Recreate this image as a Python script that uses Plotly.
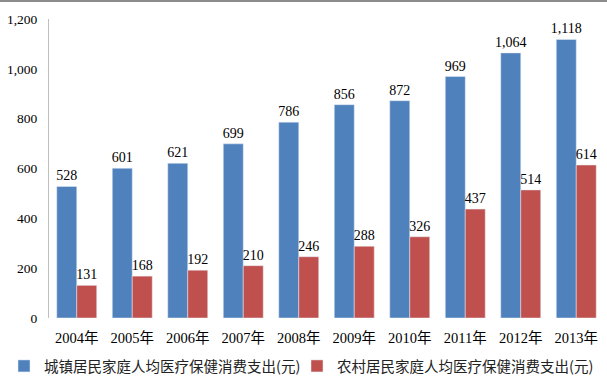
import plotly.graph_objects as go

years = ["2004年", "2005年", "2006年", "2007年", "2008年", "2009年", "2010年", "2011年", "2012年", "2013年"]
urban = [528, 601, 621, 699, 786, 856, 872, 969, 1064, 1118]
rural = [131, 168, 192, 210, 246, 288, 326, 437, 514, 614]
urban_name = "城镇居民家庭人均医疗保健消费支出(元)"
rural_name = "农村居民家庭人均医疗保健消费支出(元)"
y_ticks = [0, 200, 400, 600, 800, 1000, 1200]

serif = "Liberation Serif, Times New Roman, Noto Sans CJK SC"
cjk = "Noto Sans CJK SC, Liberation Sans"
W, H = 607, 390

fig = go.Figure()
fig.add_trace(go.Bar(x=years, y=urban, name=urban_name, marker_color="#4F81BD", legend="legend",
                     text=[f"{v:,}" for v in urban], textposition="outside", constraintext="none",
                     textfont=dict(family=serif, size=14, color="#000"), cliponaxis=False))
fig.add_trace(go.Bar(x=years, y=rural, name=rural_name, marker_color="#C0504D", legend="legend2",
                     text=[f"{v:,}" for v in rural], textposition="outside", constraintext="none",
                     textfont=dict(family=serif, size=14, color="#000"), cliponaxis=False))

leg_common = dict(xref="container", yref="container", xanchor="left", yanchor="middle",
                  y=1 - 366 / H, font=dict(family=cjk, size=14.5, color="#222"),
                  bgcolor="rgba(0,0,0,0)")

fig.update_layout(
    width=W, height=H,
    margin=dict(l=49, r=3, t=19, b=72, autoexpand=False),
    paper_bgcolor="white", plot_bgcolor="white",
    barmode="group", bargap=0.28, bargroupgap=0,
    showlegend=True,
    legend=dict(x=4 / W, **leg_common),
    legend2=dict(x=297 / W, **leg_common),
    xaxis=dict(showline=False, showgrid=False, ticks="", automargin=False, ticklabelstandoff=9,
               tickfont=dict(family=serif, size=14.5, color="#000")),
    yaxis=dict(range=[0, 1200], tickvals=y_ticks, ticktext=[f"{v:,}" for v in y_ticks], automargin=False,
               showline=True, linecolor="#BFBFBF", linewidth=1, showgrid=False, zeroline=False,
               ticks="", ticklabelstandoff=8, tickfont=dict(family=serif, size=13.5, color="#000")),
    shapes=[dict(type="line", xref="paper", yref="paper", x0=-0.1, x1=1.01, y0=1.062, y1=1.062,
                 line=dict(color="#8C8C8C", width=3))],
)

fig.write_html("out.html", post_script="document.body.style.margin='0';",
               config={"displayModeBar": False})
